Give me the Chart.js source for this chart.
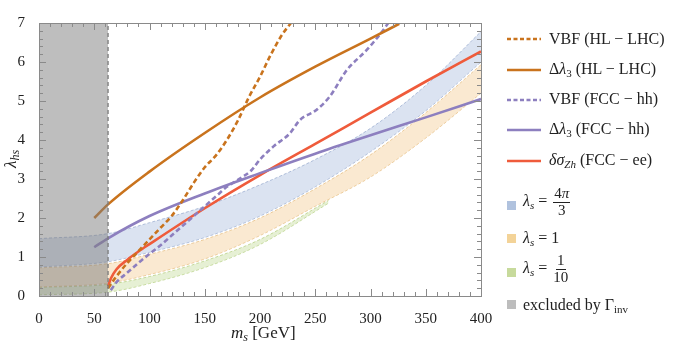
<!DOCTYPE html>
<html lang="en">
<head>
<meta charset="UTF-8">
<title>lambda_hs vs m_s</title>
<script src="https://cdn.jsdelivr.net/npm/chart.js@4.4.1/dist/chart.umd.min.js"></script>
<style>
  body { margin: 0; background: #fff; }
  #wrap { position: relative; width: 674px; height: 348px; font-family: "Liberation Serif", serif; color: #222; }
  #chart { position: absolute; left: 0; top: 0; }
  .lbl { position: absolute; white-space: nowrap; font-size: 16px; line-height: 1; }
  .lbl i { font-style: italic; }
  .lbl sub { font-size: 11px; vertical-align: -3px; }
  .big { font-size: 17px; }
  .big sub { font-size: 12px; }
  .frac { display: inline-flex; flex-direction: column; align-items: center; vertical-align: middle; font-size: 15px; margin-left: 2px; }
  .frac span:first-child { border-bottom: 1px solid #222; padding: 0 1px 1px; }
  .sq { position: absolute; width: 9px; height: 9px; }
</style>
</head>
<body>
<div id="wrap">
  <canvas id="chart" width="674" height="348"></canvas>

  <!-- axis titles -->
  <div class="lbl big" style="left:0px; top:142px; transform: rotate(-90deg); transform-origin: 14px 12px;"><i>λ</i><sub><i>hs</i></sub></div>
  <div class="lbl big" style="left:231px; top:324px;"><i>m</i><sub><i>s</i></sub> [GeV]</div>

  <!-- legend: lines -->
  <svg style="position:absolute; left:505px; top:30px;" width="40" height="140">
    <line x1="2" y1="9" x2="36" y2="9" stroke="#c9731d" stroke-width="2.5" stroke-dasharray="4,2.5"/>
    <line x1="2" y1="40" x2="36" y2="40" stroke="#c9731d" stroke-width="2.5"/>
    <line x1="2" y1="70" x2="36" y2="70" stroke="#8d7fbf" stroke-width="2.5" stroke-dasharray="4,2.5"/>
    <line x1="2" y1="100" x2="36" y2="100" stroke="#8d7fbf" stroke-width="2.5"/>
    <line x1="2" y1="131" x2="36" y2="131" stroke="#ef5b3b" stroke-width="2.5"/>
  </svg>
  <div class="lbl" style="left:549px; top:31px;">VBF (HL − LHC)</div>
  <div class="lbl" style="left:549px; top:61px;">Δ<i>λ</i><sub>3</sub> (HL − LHC)</div>
  <div class="lbl" style="left:549px; top:91px;">VBF (FCC − hh)</div>
  <div class="lbl" style="left:549px; top:121px;">Δ<i>λ</i><sub>3</sub> (FCC − hh)</div>
  <div class="lbl" style="left:549px; top:152px;"><i>δσ</i><sub><i>Zh</i></sub> (FCC − ee)</div>

  <!-- legend: bands -->
  <div class="sq" style="left:507px; top:201px; background:#b0c2de;"></div>
  <div class="lbl" style="left:523px; top:186px;"><i>λ</i><sub><i>s</i></sub> = <span class="frac"><span>4<i>π</i></span><span>3</span></span></div>
  <div class="sq" style="left:507px; top:234px; background:#f3d398;"></div>
  <div class="lbl" style="left:523px; top:230px;"><i>λ</i><sub><i>s</i></sub> = 1</div>
  <div class="sq" style="left:507px; top:268px; background:#c7da9c;"></div>
  <div class="lbl" style="left:523px; top:253px;"><i>λ</i><sub><i>s</i></sub> = <span class="frac"><span>1</span><span>10</span></span></div>
  <div class="sq" style="left:507px; top:300px; background:#bdbdbd;"></div>
  <div class="lbl" style="left:523px; top:297px;">excluded by Γ<sub>inv</sub></div>
</div>

<script>
// tick labels
const xTicks = [0, 50, 100, 150, 200, 250, 300, 350, 400];
const yTicks = [0, 1, 2, 3, 4, 5, 6, 7];

// excluded region (m_s < m_h/2)
const exclX = [0, 62.5];
const exclY = [7, 7];

// bands: lambda_s = 4pi/3
const bandX = [0, 62.5, 100, 150, 200, 250, 300, 350, 400];
const blueHi = [1.47, 1.6, 1.88, 2.3, 2.85, 3.5, 4.3, 5.4, 6.78];
const blueLo = [0.74, 0.88, 1.12, 1.5, 2.05, 2.8, 3.7, 4.75, 6.0];
// lambda_s = 1
const orangeHi = [0.72, 0.83, 1.07, 1.45, 2.0, 2.75, 3.62, 4.7, 5.93];
const orangeLo = [0.23, 0.33, 0.55, 0.95, 1.55, 2.3, 3.05, 4.05, 5.2];
// lambda_s = 1/10 (stops at ~262)
const greenX = [0, 62.5, 100, 150, 200, 262];
const greenHi = [0.22, 0.3, 0.5, 0.9, 1.45, 2.45];
const greenLo = [0.03, 0.1, 0.32, 0.73, 1.32, 2.38];

// VBF (HL-LHC)
const vbfHlX = [62.5, 70, 80, 90, 100, 110, 120, 130, 140, 150, 160, 170, 180, 190, 200, 210, 220, 228];
const vbfHlY = [0.2, 0.5, 0.85, 1.15, 1.45, 1.75, 2.05, 2.45, 2.9, 3.3, 3.6, 4.0, 4.5, 5.1, 5.62, 6.2, 6.7, 7.0];
// Delta lambda3 (HL-LHC)
const dlHlX = [50, 62.5, 100, 150, 200, 250, 300, 326];
const dlHlY = [2.0, 2.35, 3.19, 4.18, 5.09, 5.88, 6.6, 6.98];
// VBF (FCC-hh)
const vbfFccX = [65, 70, 80, 90, 100, 110, 120, 130, 140, 150, 160, 170, 180, 192.5, 200, 212, 227, 236, 251, 263, 278.5, 296.6, 311.6, 316];
const vbfFccY = [0.15, 0.35, 0.6, 0.85, 1.08, 1.3, 1.55, 1.8, 2.05, 2.3, 2.55, 2.8, 2.98, 3.23, 3.5, 3.83, 4.17, 4.51, 4.77, 5.11, 5.79, 6.31, 6.82, 7.0];
// Delta lambda3 (FCC-hh)
const dlFccX = [50, 62.5, 100, 150, 200, 250, 300, 350, 400];
const dlFccY = [1.25, 1.48, 2.05, 2.63, 3.15, 3.65, 4.12, 4.58, 5.05];
// delta sigma_Zh (FCC-ee)
const zhX = [62.5, 65, 70, 80, 90, 100, 150, 200, 250, 300, 350, 400];
const zhY = [0.25, 0.45, 0.68, 0.93, 1.14, 1.33, 2.25, 3.1, 3.9, 4.7, 5.5, 6.27];

const pts = (xs, ys) => xs.map((x, i) => ({x: x, y: ys[i]}));

function edge(xs, ys, col, fillCol, fillTo) {
  return {
    data: pts(xs, ys), borderColor: col, borderWidth: 0.8, borderDash: [3, 2],
    pointRadius: 0, cubicInterpolationMode: 'monotone', fill: fillTo, backgroundColor: fillCol, order: 10
  };
}
function curve(xs, ys, col, dashed) {
  return {
    data: pts(xs, ys), borderColor: col, borderWidth: 2.6, borderDash: dashed ? [5, 3] : [],
    pointRadius: 0, cubicInterpolationMode: 'monotone', fill: false, order: 5
  };
}

// inward ticks and frame, Mathematica style
const frameTicks = {
  id: 'frameTicks',
  afterDraw(chart) {
    const ctx = chart.ctx, a = chart.chartArea;
    const xs = chart.scales.x, ys = chart.scales.y;
    ctx.save();
    ctx.strokeStyle = '#8a8a8a';
    ctx.lineWidth = 1;
    ctx.strokeRect(a.left + 0.5, a.top + 0.5, a.right - a.left, a.bottom - a.top);
    ctx.beginPath();
    for (let v = 0; v <= 400; v += 10) {
      const p = Math.round(xs.getPixelForValue(v)) + 0.5;
      const len = v % 50 === 0 ? 7 : 4;
      ctx.moveTo(p, a.bottom); ctx.lineTo(p, a.bottom - len);
      ctx.moveTo(p, a.top); ctx.lineTo(p, a.top + len);
    }
    for (let k = 0; k <= 35; k++) {
      const v = k * 0.2;
      const p = Math.round(ys.getPixelForValue(v)) + 0.5;
      const len = k % 5 === 0 ? 7 : 4;
      ctx.moveTo(a.left, p); ctx.lineTo(a.left + len, p);
      ctx.moveTo(a.right, p); ctx.lineTo(a.right - len, p);
    }
    ctx.stroke();
    ctx.restore();
  }
};

new Chart(document.getElementById('chart'), {
  type: 'line',
  data: {
    datasets: [
      edge(bandX, blueHi, 'rgba(140,160,200,0.8)', 'rgba(175,193,225,0.45)', '+1'),
      edge(bandX, blueLo, 'rgba(140,160,200,0.8)', 'transparent', false),
      edge(bandX, orangeHi, 'rgba(225,180,110,0.8)', 'rgba(243,200,140,0.4)', '+1'),
      edge(bandX, orangeLo, 'rgba(225,180,110,0.8)', 'transparent', false),
      edge(greenX, greenHi, 'rgba(170,200,110,0.8)', 'rgba(200,222,160,0.45)', '+1'),
      edge(greenX, greenLo, 'rgba(170,200,110,0.8)', 'transparent', false),
      curve(vbfHlX, vbfHlY, '#c9731d', true),
      curve(dlHlX, dlHlY, '#c9731d', false),
      curve(vbfFccX, vbfFccY, '#8d7fbf', true),
      curve(dlFccX, dlFccY, '#8d7fbf', false),
      curve(zhX, zhY, '#ef5b3b', false),
      {
        data: pts(exclX, exclY), borderColor: 'rgba(0,0,0,0)', borderWidth: 0, pointRadius: 0,
        fill: 'origin', backgroundColor: 'rgba(125,125,125,0.5)', order: -1
      },
      {
        data: [{x: exclX[1], y: 0}, {x: exclX[1], y: 7}], borderColor: '#7a7a7a', borderWidth: 1.3,
        borderDash: [4, 3], pointRadius: 0, tension: 0, fill: false, order: -2
      }
    ]
  },
  options: {
    responsive: false,
    animation: false,
    layout: { padding: { top: 23, right: 193, left: 0, bottom: 0 } },
    plugins: { legend: { display: false }, tooltip: { enabled: false } },
    scales: {
      x: {
        type: 'linear', min: 0, max: 400,
        afterFit(s) { s.height = 52; },
        afterBuildTicks(s) { s.ticks = xTicks.map(v => ({value: v})); },
        grid: { display: false }, border: { display: false },
        ticks: { font: { family: 'Liberation Serif', size: 15 }, color: '#222', padding: 6, maxRotation: 0 }
      },
      y: {
        type: 'linear', min: 0, max: 7,
        afterFit(s) { s.width = 39; },
        afterBuildTicks(s) { s.ticks = yTicks.map(v => ({value: v})); },
        grid: { display: false }, border: { display: false },
        ticks: { font: { family: 'Liberation Serif', size: 15 }, color: '#222', padding: 6 }
      }
    }
  },
  plugins: [frameTicks]
});
</script>
</body>
</html>
